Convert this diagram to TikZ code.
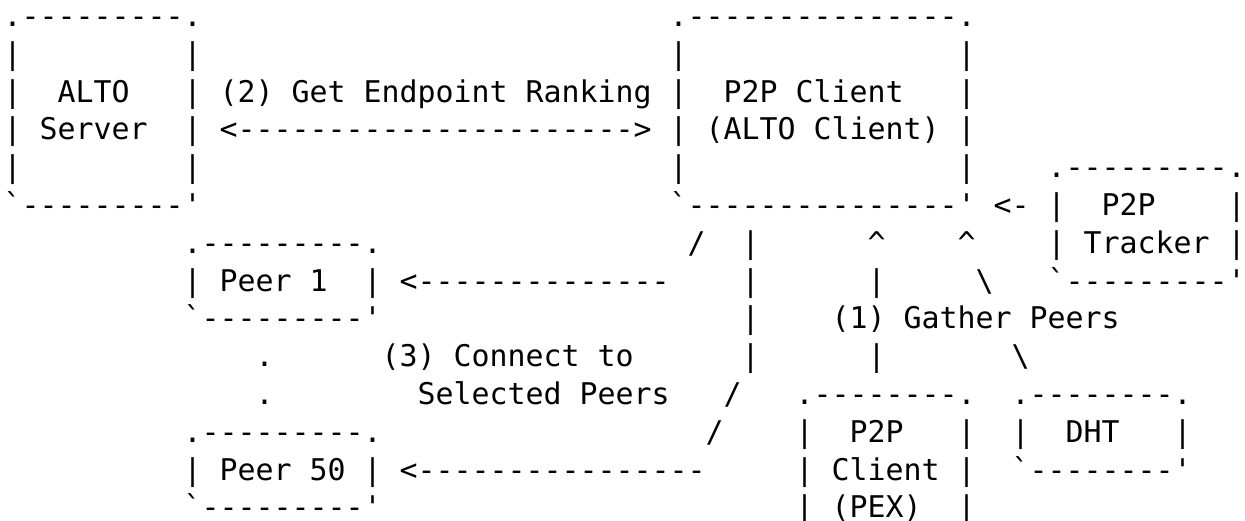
\documentclass[tikz,border=0pt]{standalone}
\usepackage{fontspec}
\setmonofont{DejaVu Sans Mono}
\frenchspacing
\tikzset{asc/.style={anchor=base west, inner sep=0pt, outer sep=0pt, text=black,
  font=\ttfamily\fontsize{29.9}{36}\selectfont}}
\newcommand\asc[3]{\node[asc] (r#1c#2) at ({3.7+18*#2},{-26.5-37.8*#1}) {#3};}
\begin{document}
\begin{tikzpicture}[x=1pt,y=1pt]
\useasboundingbox[fill=white] (0,0) rectangle (1245,-521);
% row 0
\asc{0}{0}{.---------.}
\asc{0}{37}{.---------------.}
% row 1
\asc{1}{0}{|}\asc{1}{10}{|}\asc{1}{37}{|}\asc{1}{53}{|}
% row 2
\asc{2}{0}{|}\asc{2}{3}{ALTO}\asc{2}{10}{|}
\asc{2}{12}{(2) Get Endpoint Ranking}
\asc{2}{37}{|}\asc{2}{40}{P2P Client}\asc{2}{53}{|}
% row 3
\asc{3}{0}{|}\asc{3}{2}{Server}\asc{3}{10}{|}
\asc{3}{12}{<---------------------->}
\asc{3}{37}{|}\asc{3}{39}{(ALTO Client)}\asc{3}{53}{|}
% row 4
\asc{4}{0}{|}\asc{4}{10}{|}\asc{4}{37}{|}\asc{4}{53}{|}
\asc{4}{58}{.---------.}
% row 5
\asc{5}{0}{`---------'}
\asc{5}{37}{`---------------'}
\asc{5}{55}{<-}
\asc{5}{58}{|}\asc{5}{61}{P2P}\asc{5}{68}{|}
% row 6
\asc{6}{10}{.---------.}
\asc{6}{38}{/}\asc{6}{41}{|}
\asc{6}{48}{\textasciicircum}\asc{6}{53}{\textasciicircum}
\asc{6}{58}{|}\asc{6}{60}{Tracker}\asc{6}{68}{|}
% row 7
\asc{7}{10}{|}\asc{7}{12}{Peer 1}\asc{7}{20}{|}
\asc{7}{22}{<--------------}
\asc{7}{41}{|}\asc{7}{48}{|}\asc{7}{54}{\textbackslash}
\asc{7}{58}{`---------'}
% row 8
\asc{8}{10}{`---------'}
\asc{8}{41}{|}
\asc{8}{46}{(1) Gather Peers}
% row 9
\asc{9}{14}{.}
\asc{9}{21}{(3) Connect to}
\asc{9}{41}{|}\asc{9}{48}{|}\asc{9}{56}{\textbackslash}
% row 10
\asc{10}{14}{.}
\asc{10}{23}{Selected Peers}
\asc{10}{40}{/}
\asc{10}{44}{.--------.}
\asc{10}{56}{.--------.}
% row 11
\asc{11}{10}{.---------.}
\asc{11}{39}{/}
\asc{11}{44}{|}\asc{11}{47}{P2P}\asc{11}{53}{|}
\asc{11}{56}{|}\asc{11}{59}{DHT}\asc{11}{65}{|}
% row 12
\asc{12}{10}{|}\asc{12}{12}{Peer 50}\asc{12}{20}{|}
\asc{12}{22}{<----------------}
\asc{12}{44}{|}\asc{12}{46}{Client}\asc{12}{53}{|}
\asc{12}{56}{`--------'}
% row 13
\asc{13}{10}{`---------'}
\asc{13}{44}{|}\asc{13}{46}{(PEX)}\asc{13}{53}{|}
\end{tikzpicture}
\end{document}
